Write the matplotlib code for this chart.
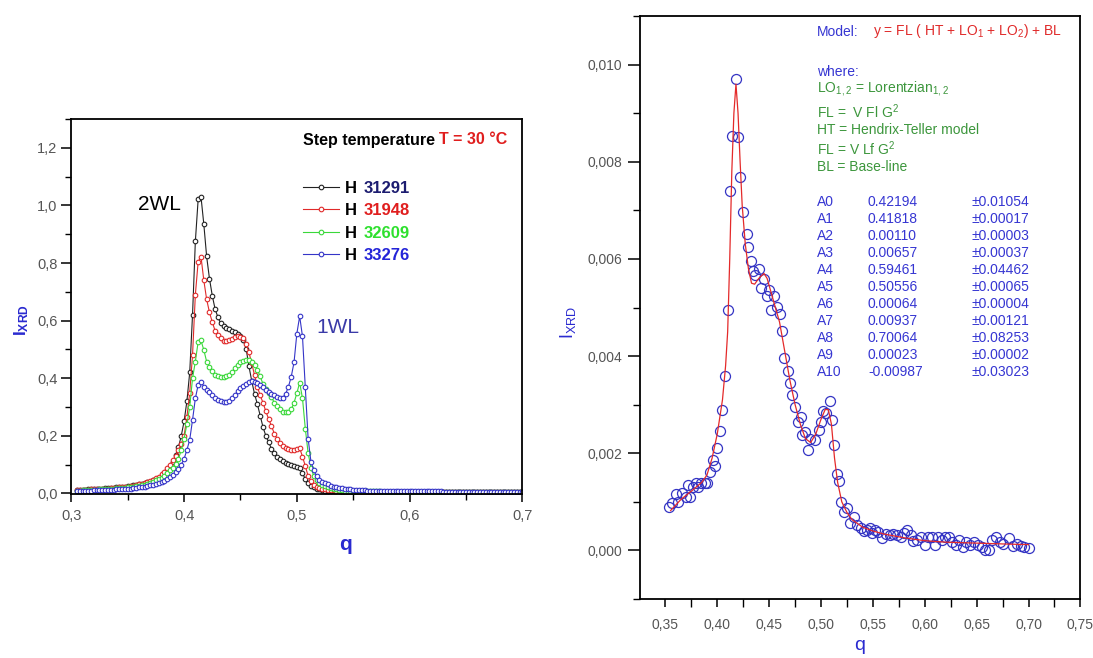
import numpy as np
import matplotlib
matplotlib.use('Agg')
import matplotlib.pyplot as plt
from matplotlib.ticker import MultipleLocator, FuncFormatter

plt.rcParams['font.family'] = ['Liberation Sans', 'DejaVu Sans']
plt.rcParams['mathtext.fontset'] = 'custom'
plt.rcParams['mathtext.rm'] = 'Liberation Sans'
plt.rcParams['mathtext.bf'] = 'Liberation Sans:bold'

# ---- left panel data: I_XRD vs q, four samples (grid step 0.0025 from 0.305 to 0.700)
q_left = np.round(np.arange(0.305, 0.7001, 0.0025), 4)

h31291 = [
    0.012, 0.012, 0.013, 0.013, 0.014, 0.014, 0.015, 0.015, 0.016, 0.017,  # 0.305
    0.018, 0.018, 0.019, 0.020, 0.021, 0.022, 0.023, 0.024, 0.025, 0.027,  # 0.330
    0.028, 0.030, 0.031, 0.033, 0.035, 0.038, 0.041, 0.045, 0.050, 0.055,  # 0.355
    0.062, 0.070, 0.080, 0.093, 0.110, 0.132, 0.160, 0.200, 0.250, 0.320,  # 0.380
    0.420, 0.620, 0.875, 1.022, 1.030, 0.935, 0.823, 0.746, 0.687, 0.640,  # 0.405
    0.612, 0.590, 0.580, 0.575, 0.570, 0.565, 0.560, 0.555, 0.548, 0.532,  # 0.430
    0.503, 0.442, 0.390, 0.345, 0.310, 0.270, 0.230, 0.200, 0.178, 0.155,  # 0.455
    0.140, 0.128, 0.120, 0.113, 0.107, 0.101, 0.097, 0.095, 0.093, 0.088,  # 0.480
    0.070, 0.050, 0.035, 0.027, 0.021, 0.017, 0.014, 0.012, 0.010, 0.009,  # 0.505
    0.008, 0.008, 0.007, 0.007, 0.006, 0.006, 0.006, 0.006, 0.005, 0.005,  # 0.530
    0.005, 0.005, 0.005, 0.005, 0.005, 0.005, 0.005, 0.005, 0.005, 0.005,  # 0.555
    0.005, 0.005, 0.005, 0.005, 0.005, 0.004, 0.004, 0.004, 0.004, 0.004,  # 0.580
    0.004, 0.004, 0.004, 0.004, 0.004, 0.004, 0.004, 0.004, 0.004, 0.004,  # 0.605
    0.004, 0.004, 0.004, 0.004, 0.004, 0.004, 0.004, 0.004, 0.004, 0.004,  # 0.630
    0.004, 0.004, 0.004, 0.004, 0.004, 0.004, 0.004, 0.004, 0.004, 0.004,  # 0.655
    0.004, 0.004, 0.004, 0.004, 0.004, 0.004, 0.004, 0.004, 0.004,         # 0.680
]
h31948 = [
    0.012, 0.012, 0.012, 0.013, 0.013, 0.014, 0.014, 0.015, 0.015, 0.016,
    0.017, 0.017, 0.018, 0.019, 0.020, 0.021, 0.022, 0.023, 0.024, 0.026,
    0.027, 0.029, 0.031, 0.033, 0.036, 0.039, 0.043, 0.047, 0.052, 0.058,
    0.066, 0.075, 0.087, 0.100, 0.115, 0.130, 0.150, 0.172, 0.200, 0.265,
    0.350, 0.480, 0.690, 0.805, 0.822, 0.740, 0.674, 0.629, 0.595, 0.565,
    0.550, 0.538, 0.530, 0.529, 0.532, 0.537, 0.542, 0.545, 0.544, 0.539,
    0.520, 0.490, 0.452, 0.410, 0.370, 0.340, 0.315, 0.285, 0.258, 0.234,
    0.208, 0.190, 0.176, 0.166, 0.158, 0.153, 0.151, 0.151, 0.154, 0.157,
    0.128, 0.095, 0.060, 0.042, 0.030, 0.024, 0.020, 0.017, 0.015, 0.013,
    0.012, 0.011, 0.010, 0.009, 0.009, 0.008, 0.008, 0.007, 0.007, 0.007,
    0.006, 0.006, 0.006, 0.006, 0.006, 0.006, 0.006, 0.006, 0.006, 0.006,
    0.006, 0.006, 0.006, 0.005, 0.005, 0.005, 0.005, 0.005, 0.005, 0.005,
    0.005, 0.005, 0.005, 0.005, 0.005, 0.005, 0.005, 0.005, 0.005, 0.005,
    0.005, 0.005, 0.005, 0.005, 0.005, 0.005, 0.005, 0.005, 0.005, 0.005,
    0.005, 0.005, 0.005, 0.005, 0.005, 0.005, 0.005, 0.005, 0.005, 0.005,
    0.005, 0.005, 0.005, 0.005, 0.005, 0.005, 0.005, 0.005, 0.005,
]
h32609 = [
    0.010, 0.010, 0.011, 0.011, 0.012, 0.012, 0.013, 0.013, 0.014, 0.014,
    0.015, 0.015, 0.016, 0.017, 0.018, 0.018, 0.019, 0.020, 0.021, 0.022,
    0.023, 0.025, 0.026, 0.028, 0.030, 0.033, 0.037, 0.040, 0.045, 0.050,
    0.055, 0.062, 0.070, 0.080, 0.090, 0.103, 0.120, 0.150, 0.190, 0.240,
    0.300, 0.400, 0.458, 0.527, 0.531, 0.498, 0.458, 0.440, 0.425, 0.412,
    0.408, 0.405, 0.404, 0.406, 0.412, 0.422, 0.434, 0.447, 0.456, 0.461,
    0.464, 0.462, 0.458, 0.445, 0.429, 0.406, 0.380, 0.363, 0.348, 0.335,
    0.315, 0.302, 0.292, 0.284, 0.281, 0.283, 0.292, 0.315, 0.348, 0.385,
    0.330, 0.225, 0.140, 0.090, 0.060, 0.045, 0.035, 0.029, 0.025, 0.021,
    0.018, 0.016, 0.014, 0.012, 0.011, 0.010, 0.009, 0.009, 0.008, 0.008,
    0.008, 0.007, 0.007, 0.007, 0.007, 0.007, 0.007, 0.007, 0.006, 0.006,
    0.006, 0.006, 0.006, 0.006, 0.006, 0.006, 0.006, 0.006, 0.006, 0.006,
    0.006, 0.006, 0.006, 0.006, 0.006, 0.006, 0.005, 0.005, 0.005, 0.005,
    0.005, 0.005, 0.005, 0.005, 0.005, 0.005, 0.005, 0.005, 0.005, 0.005,
    0.005, 0.005, 0.005, 0.005, 0.005, 0.005, 0.005, 0.005, 0.005, 0.005,
    0.005, 0.005, 0.005, 0.005, 0.005, 0.005, 0.005, 0.005, 0.005,
]
h33276 = [
    0.009, 0.009, 0.009, 0.010, 0.010, 0.010, 0.011, 0.011, 0.011, 0.012,
    0.012, 0.012, 0.013, 0.013, 0.014, 0.014, 0.015, 0.016, 0.016, 0.017,
    0.018, 0.019, 0.021, 0.022, 0.024, 0.026, 0.028, 0.030, 0.033, 0.036,
    0.040, 0.044, 0.050, 0.057, 0.065, 0.074, 0.085, 0.100, 0.120, 0.151,
    0.186, 0.255, 0.330, 0.377, 0.388, 0.371, 0.360, 0.352, 0.342, 0.333,
    0.326, 0.322, 0.318, 0.316, 0.320, 0.330, 0.342, 0.355, 0.366, 0.374,
    0.380, 0.386, 0.390, 0.388, 0.382, 0.375, 0.368, 0.360, 0.352, 0.345,
    0.340, 0.334, 0.330, 0.333, 0.345, 0.370, 0.405, 0.455, 0.555, 0.615,
    0.545, 0.370, 0.190, 0.110, 0.080, 0.060, 0.047, 0.040, 0.035, 0.031,
    0.027, 0.024, 0.022, 0.020, 0.018, 0.016, 0.015, 0.014, 0.013, 0.012,
    0.012, 0.011, 0.011, 0.010, 0.010, 0.010, 0.009, 0.009, 0.009, 0.009,
    0.008, 0.008, 0.008, 0.008, 0.008, 0.008, 0.008, 0.007, 0.007, 0.007,
    0.007, 0.007, 0.007, 0.007, 0.007, 0.007, 0.007, 0.007, 0.007, 0.007,
    0.006, 0.006, 0.006, 0.006, 0.006, 0.006, 0.006, 0.006, 0.006, 0.006,
    0.006, 0.006, 0.006, 0.006, 0.006, 0.006, 0.006, 0.006, 0.006, 0.006,
    0.006, 0.006, 0.006, 0.006, 0.006, 0.006, 0.006, 0.006, 0.006,
]
sample_ids = ['31291', '31948', '32609', '33276']
line_colors = ['#222222', '#e02a2a', '#3ad83a', '#3535c8']
id_colors = ['#1c1c70', '#e01e1e', '#2ee02e', '#2424d8']

# ---- right panel data: measured points and fitted model
q_data = [0.3535, 0.3568, 0.3600, 0.3625, 0.3664, 0.3696, 0.3719, 0.3740, 0.3767, 0.3793,
          0.3818, 0.3847, 0.3880, 0.3900, 0.3928, 0.3954, 0.3976, 0.3999, 0.4028, 0.4050,
          0.4079, 0.4105, 0.4122, 0.4143, 0.4177, 0.4204, 0.4221, 0.4252, 0.4286, 0.4299,
          0.4327, 0.4344, 0.4367, 0.4401, 0.4422, 0.4452, 0.4476, 0.4497, 0.4520, 0.4548,
          0.4578, 0.4605, 0.4626, 0.4646, 0.4680, 0.4701, 0.4724, 0.4748, 0.4776, 0.4803,
          0.4816, 0.4850, 0.4878, 0.4895, 0.4946, 0.4980, 0.5000, 0.5020, 0.5048, 0.5082,
          0.5109, 0.5129, 0.5156, 0.5177, 0.5190, 0.5224, 0.5252, 0.5279, 0.5320, 0.5347,
          0.5388, 0.5415, 0.5442, 0.5469, 0.5490, 0.5524, 0.5551, 0.5585, 0.5626, 0.5660,
          0.5694, 0.5728, 0.5769, 0.5796, 0.5830, 0.5864, 0.5891, 0.5925, 0.5959, 0.6000,
          0.6034, 0.6068, 0.6095, 0.6129, 0.6163, 0.6197, 0.6238, 0.6265, 0.6299, 0.6333,
          0.6367, 0.6401, 0.6435, 0.6476, 0.6517, 0.6551, 0.6585, 0.6619, 0.6646, 0.6687,
          0.6721, 0.6755, 0.6816, 0.6850, 0.6891, 0.6925, 0.6960, 0.7000]
i_data = [0.00090, 0.00098, 0.00117, 0.00099, 0.00118, 0.00110, 0.00135, 0.00110, 0.00130, 0.00138,
          0.00130, 0.00139, 0.00139, 0.00138, 0.00161, 0.00187, 0.00174, 0.00211, 0.00245, 0.00290,
          0.00360, 0.00494, 0.00739, 0.00854, 0.00970, 0.00850, 0.00769, 0.00696, 0.00652, 0.00624,
          0.00596, 0.00575, 0.00566, 0.00579, 0.00541, 0.00558, 0.00523, 0.00536, 0.00495, 0.00523,
          0.00502, 0.00486, 0.00452, 0.00396, 0.00370, 0.00345, 0.00320, 0.00296, 0.00264, 0.00275,
          0.00238, 0.00243, 0.00206, 0.00230, 0.00228, 0.00247, 0.00264, 0.00286, 0.00282, 0.00307,
          0.00269, 0.00217, 0.00158, 0.00142, 0.00100, 0.00079, 0.00087, 0.00057, 0.00068, 0.00053,
          0.00046, 0.00040, 0.00042, 0.00047, 0.00035, 0.00042, 0.00037, 0.00025, 0.00034, 0.00031,
          0.00034, 0.00031, 0.00028, 0.00035, 0.00041, 0.00031, 0.00020, 0.00022, 0.00028, 0.00011,
          0.00027, 0.00028, 0.00012, 0.00027, 0.00022, 0.00027, 0.00028, 0.00018, 0.00012, 0.00022,
          0.00008, 0.00018, 0.00011, 0.00018, 0.00011, 0.00008, 0.00001, 0.00001, 0.00022, 0.00028,
          0.00018, 0.00014, 0.00025, 0.00010, 0.00014, 0.00010, 0.00008, 0.00005]

q_fit = [0.355, 0.365, 0.375, 0.385, 0.390, 0.395, 0.400, 0.405, 0.408, 0.410, 0.412, 0.414,
         0.416, 0.418, 0.420, 0.422, 0.424, 0.427, 0.430, 0.433, 0.436, 0.440, 0.445, 0.448,
         0.452, 0.456, 0.460, 0.465, 0.470, 0.475, 0.480, 0.485, 0.490, 0.495, 0.500, 0.504,
         0.507, 0.510, 0.513, 0.516, 0.520, 0.525, 0.530, 0.540, 0.550, 0.560, 0.580, 0.600,
         0.620, 0.650, 0.680, 0.700]
i_fit = [0.00082, 0.00105, 0.00122, 0.00140, 0.00155, 0.00190, 0.00240, 0.00310, 0.00380, 0.00450,
         0.00600, 0.00780, 0.00900, 0.00960, 0.00900, 0.00800, 0.00710, 0.00630, 0.00580, 0.00550,
         0.00548, 0.00560, 0.00570, 0.00560, 0.00530, 0.00500, 0.00470, 0.00410, 0.00350, 0.00300,
         0.00260, 0.00230, 0.00222, 0.00240, 0.00270, 0.00290, 0.00290, 0.00260, 0.00190, 0.00140,
         0.00100, 0.00078, 0.00063, 0.00048, 0.00040, 0.00034, 0.00026, 0.00020, 0.00017, 0.00015,
         0.00013, 0.00012]

par_names = ['A0', 'A1', 'A2', 'A3', 'A4', 'A5', 'A6', 'A7', 'A8', 'A9', 'A10']
par_values = ['0.42194', '0.41818', '0.00110', '0.00657', '0.59461', '0.50556',
              '0.00064', '0.00937', '0.70064', '0.00023', '-0.00987']
par_errors = ['±0.01054', '±0.00017', '±0.00003', '±0.00037', '±0.04462', '±0.00065',
              '±0.00004', '±0.00121', '±0.08253', '±0.00002', '±0.03023']
where_lines = ['LO$_\\mathregular{1,2}$ = Lorentzian$_\\mathregular{1,2}$',
               'FL =  V Fl G$^\\mathregular{2}$',
               'HT = Hendrix-Teller model',
               'FL = V Lf G$^\\mathregular{2}$',
               'BL = Base-line']

W, H = 1093, 658
def fx(px):
    return px / W
def fy(py):
    return 1 - py / H

comma = FuncFormatter(lambda v, p: ('%.1f' % v).replace('.', ','))
comma2 = FuncFormatter(lambda v, p: ('%.2f' % v).replace('.', ','))
comma3 = FuncFormatter(lambda v, p: ('%.3f' % v).replace('.', ','))

BLUE_TXT = '#3636d2'
GREEN_TXT = '#3c963c'

fig = plt.figure(figsize=(W / 100, H / 100), dpi=100)

# ---------------- left panel
ax1 = fig.add_axes([fx(71.3), fy(494), fx(522.4) - fx(71.3), fy(119) - fy(494)])
for ys, c in zip([h31291, h31948, h32609, h33276], line_colors):
    ax1.plot(q_left, ys, '-o', color=c, lw=0.8, ms=3.3, mfc='white', mec=c, mew=0.8, label='H')
ax1.set_xlim(0.3, 0.7)
ax1.set_ylim(-0.002, 1.3)
ax1.xaxis.set_major_locator(MultipleLocator(0.1))
ax1.xaxis.set_minor_locator(MultipleLocator(0.05))
ax1.yaxis.set_major_locator(MultipleLocator(0.2))
ax1.yaxis.set_minor_locator(MultipleLocator(0.1))
ax1.xaxis.set_major_formatter(comma)
ax1.yaxis.set_major_formatter(comma)

leg = ax1.legend(loc='upper left', bbox_to_anchor=(0.498, 0.853), frameon=False,
                 handlelength=2.2, handletextpad=0.34, labelspacing=0.45, numpoints=1,
                 borderaxespad=0, prop={'weight': 'bold', 'size': 12})
for t, sid, c in zip(leg.get_texts(), sample_ids, id_colors):
    ax1.annotate(sid, xy=(1, 0), xycoords=t, xytext=(4.5, 0), textcoords='offset points',
                 color=c, weight='bold', fontsize=12, va='bottom', zorder=10)

t0 = ax1.text(0.513, 0.944, 'Step temperature ', transform=ax1.transAxes,
              weight='bold', fontsize=11.5, va='center', color='black')
ax1.annotate('T = 30 °C', xy=(1, 0), xycoords=t0, xytext=(0, 0), textcoords='offset points',
             color='#e01e1e', weight='bold', fontsize=11.5, va='bottom', zorder=10)

ax1.text(0.359, 1.004, '2WL', fontsize=15, color='black', va='center')
ax1.text(0.517, 0.576, '1WL', fontsize=15, color='#3a3aa8', va='center')

fig.text(fx(345), fy(545), 'q', color='#2a2ad0', fontsize=15, weight='bold', ha='center', va='center')
fig.text(fx(22), fy(320), '$\\mathbf{I_{XRD}}$', color='#2a2ad0', fontsize=12.5, rotation=90,
         ha='center', va='center')

# ---------------- right panel
ax2 = fig.add_axes([fx(640), fy(599), fx(1080.4) - fx(640), fy(16) - fy(599)])
ax2.plot(q_data, i_data, 'o', mfc='none', mec='#3434c4', ms=7.2, mew=0.9, zorder=2)
ax2.plot(q_fit, i_fit, '-', color='#e42a2a', lw=0.9, zorder=3)
ax2.set_xlim(0.3255, 0.75)
ax2.set_ylim(-0.001, 0.011)
ax2.xaxis.set_major_locator(MultipleLocator(0.05))
ax2.xaxis.set_minor_locator(MultipleLocator(0.025))
ax2.yaxis.set_major_locator(MultipleLocator(0.002))
ax2.yaxis.set_minor_locator(MultipleLocator(0.001))
ax2.xaxis.set_major_formatter(comma2)
ax2.yaxis.set_major_formatter(comma3)

for ax in (ax1, ax2):
    for s in ax.spines.values():
        s.set_linewidth(1.3)
    ax.tick_params(which='both', labelcolor='#555555', direction='out')
    ax.tick_params(axis='x', which='major', length=6, width=1.1, labelsize=10.5, pad=5)
    ax.tick_params(axis='x', which='minor', length=4, width=1.0)
ax1.tick_params(axis='y', which='major', length=7, width=1.1, labelsize=10.5, pad=3)
ax1.tick_params(axis='y', which='minor', length=4, width=1.0)
ax2.tick_params(axis='x', which='major', labelsize=10, pad=8)
ax2.tick_params(axis='x', which='minor', length=6)
ax2.tick_params(axis='y', which='major', length=9, width=1.1, labelsize=10, pad=4)
ax2.tick_params(axis='y', which='minor', length=5, width=1.0)

# model description
fs = 10
fig.text(fx(817), fy(31.5), 'Model:', color=BLUE_TXT, fontsize=fs, va='center')
fig.text(fx(873), fy(31.5), 'y = FL ( HT + LO$_\\mathregular{1}$ + LO$_\\mathregular{2}$) + BL',
         color='#e02a2a', fontsize=fs, va='center')
fig.text(fx(817), fy(71.5), 'where:', color=BLUE_TXT, fontsize=fs, va='center')
for k, line in enumerate(where_lines):
    fig.text(fx(817), fy([88.3, 111.7, 130, 148.3, 167.3][k]), line, color=GREEN_TXT,
             fontsize=fs, va='center')
for k, (n, v, e) in enumerate(zip(par_names, par_values, par_errors)):
    yy = fy(201.7 + k * 17.06)
    fig.text(fx(817), yy, n, color=BLUE_TXT, fontsize=fs, va='center')
    fig.text(fx(868), yy, v, color=BLUE_TXT, fontsize=fs, va='center')
    fig.text(fx(972), yy, e, color=BLUE_TXT, fontsize=fs, va='center')

fig.text(fx(568), fy(322), '$\\mathregular{I_{XRD}}$', color='#2a2ad0', fontsize=13, rotation=90,
         ha='center', va='center')
fig.text(fx(860), fy(645), 'q', color='#2a2ad0', fontsize=14, ha='center', va='center')

fig.canvas.draw()
fig.savefig('out.png', dpi=100)
